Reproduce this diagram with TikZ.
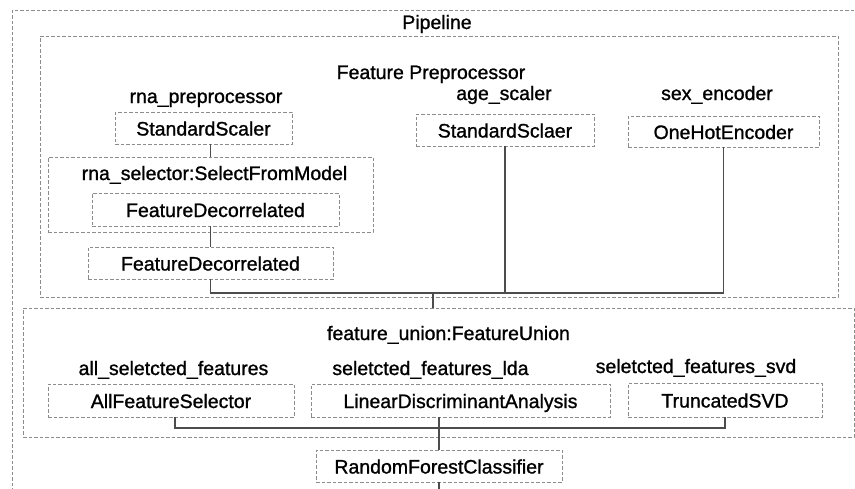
\documentclass[tikz,border=0pt]{standalone}
\usepackage{fontspec}
\setmainfont{Liberation Sans}
\newfontfamily\heavyfont[FakeBold=1.1]{Liberation Sans}
\begin{document}
\begin{tikzpicture}[x=1pt,y=-1pt,
  font=\heavyfont\fontsize{19.5}{23}\selectfont,
  dbox/.style={draw=black!45, dash pattern=on 3.5pt off 2pt, line width=0.8pt,
    inner sep=0pt, outer sep=0pt, text height=15pt, text depth=0pt, text=black},
  lbl/.style={inner sep=0pt, anchor=base, text=black},
  conn/.style={draw=black!70, line width=1.3pt}]
\useasboundingbox (0,0) rectangle (855,488);
\clip (0,0) rectangle (855,488);
\fill[white] (0,0) rectangle (855,488);

% containers
\node[dbox, minimum width=858pt, minimum height=490pt] (pipe) at (441,255) {};
\node[dbox, minimum width=798pt, minimum height=261pt] (fp) at (439,166.5) {};
\node[dbox, minimum width=325pt, minimum height=75pt] (sel) at (210.5,194.5) {};
\node[dbox, minimum width=831pt, minimum height=129pt] (fu) at (438.5,372.5) {};

% titles
\node[lbl] (tpipe) at (437,29) {Pipeline};
\node[lbl] (tfp) at (431,79) {Feature Preprocessor};
\node[lbl] (trna) at (206,103) {rna\_preprocessor};
\node[lbl] (tage) at (504,100) {age\_scaler};
\node[lbl] (tsex) at (717,100) {sex\_encoder};
\node[lbl] (tsel) at (214.5,180) {rna\_selector:SelectFromModel};
\node[lbl] (tfu) at (448.5,340) {feature\_union:FeatureUnion};
\node[lbl] (tall) at (173.5,375) {all\_seletcted\_features};
\node[lbl] (tlda) at (430.5,375) {seletcted\_features\_lda};
\node[lbl] (tsvd) at (696,373) {seletcted\_features\_svd};

% boxes
\node[dbox, minimum width=177pt, minimum height=32pt] (ss1) at (203.5,128) {StandardScaler};
\node[dbox, minimum width=178pt, minimum height=32pt] (age) at (505,130) {StandardSclaer};
\node[dbox, minimum width=191pt, minimum height=31pt] (sex) at (723.5,131.5) {OneHotEncoder};
\node[dbox, minimum width=247pt, minimum height=33pt] (fd1) at (215.5,209.5) {FeatureDecorrelated};
\node[dbox, minimum width=245pt, minimum height=32pt] (fd2) at (210.5,263) {FeatureDecorrelated};
\node[dbox, minimum width=246pt, minimum height=33pt] (afs) at (171,400.5) {AllFeatureSelector};
\node[dbox, minimum width=299pt, minimum height=33pt] (lda) at (460.5,400.5) {LinearDiscriminantAnalysis};
\node[dbox, minimum width=194pt, minimum height=34pt] (tsv) at (725,400) {TruncatedSVD};
\node[dbox, minimum width=246pt, minimum height=32pt] (rfc) at (439,466) {RandomForestClassifier};

% junctions
\coordinate (j1) at (433,293);
\coordinate (j2) at (439,428);
\coordinate (endc) at (439,495);

% connectors
\draw[conn] (sel.north |- ss1.south) -- (sel.north);
\draw[conn] (fd2.north |- fd1.south) -- (fd2.north);
\draw[conn] (fd2.south) |- (j1);
\draw[conn] (sex.south) |- (j1);
\draw[conn] (age.south) -- (age.south |- j1);
\draw[conn] (j1) -- (j1 |- fu.north);
\draw[conn] ([xshift=4pt]afs.south) |- (j2);
\draw[conn] (tsv.south) |- (j2);
\draw[conn] (j2 |- lda.south) -- (j2);
\draw[conn] (j2) -- (j2 |- rfc.north);
\draw[conn] (rfc.south) -- (endc);
\end{tikzpicture}
\end{document}
